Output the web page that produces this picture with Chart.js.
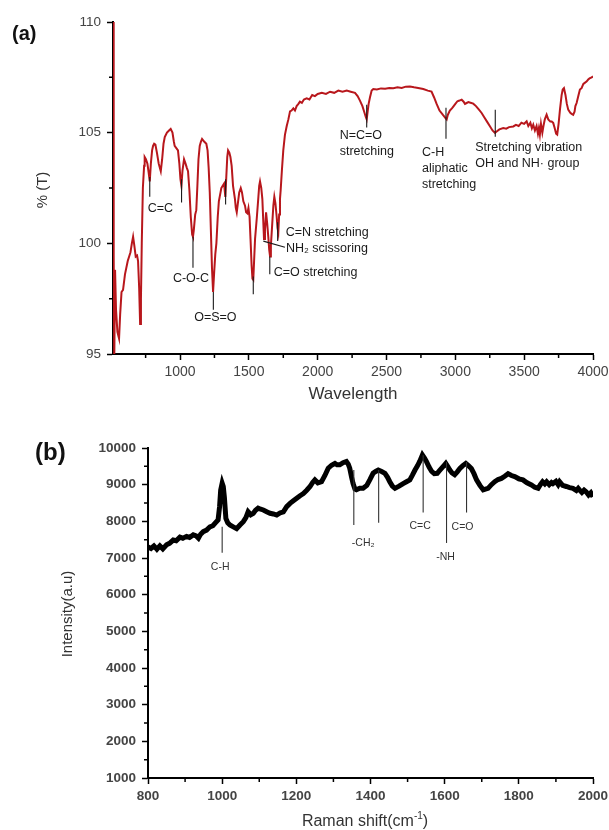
<!DOCTYPE html>
<html>
<head>
<meta charset="utf-8">
<script src="https://cdn.jsdelivr.net/npm/chart.js@4"></script>
<style>
  body { margin: 0; background: #fff; }
  .wrap { position: relative; width: 609px; height: 830px; }
  canvas { position: absolute; left: 0; }
  #ftir { top: 0; }
  #raman { top: 410px; }
</style>
</head>
<body>
<div class="wrap">
  <canvas id="ftir" width="609" height="410"></canvas>
  <canvas id="raman" width="609" height="420"></canvas>
</div>
<script>
// (a) FTIR: wavenumber and % transmittance
const ftirX = [513, 518, 522, 528, 535, 545, 557, 565, 575, 586, 600, 620, 640, 650, 659, 668, 678, 688, 695, 703,
  710, 716, 722, 730, 739, 743, 752, 763, 772, 780, 788, 797, 804, 812, 821, 832, 845, 860, 870, 880,
  889, 905, 920, 932, 945, 955, 961, 973, 985, 995, 1003, 1010, 1018, 1029, 1040, 1050, 1058, 1068, 1078, 1088,
  1094, 1100, 1110, 1118, 1126, 1134, 1143, 1152, 1160, 1175, 1191, 1200, 1208, 1216, 1224, 1232, 1240, 1248, 1256, 1264,
  1274, 1282, 1288, 1300, 1310, 1320, 1329, 1336, 1343, 1349, 1358, 1366, 1375, 1385, 1399, 1405, 1412, 1420, 1430, 1441,
  1450, 1460, 1472, 1480, 1489, 1497, 1505, 1512, 1520, 1526, 1532, 1538, 1545, 1557, 1568, 1575, 1581, 1590, 1598, 1604,
  1610, 1617, 1625, 1633, 1641, 1648, 1654, 1660, 1670, 1678, 1685, 1693, 1702, 1708, 1714, 1720, 1726, 1731, 1740, 1750,
  1762, 1775, 1787, 1799, 1810, 1823, 1835, 1847, 1860, 1871, 1885, 1900, 1920, 1940, 1960, 1980, 2000, 2030, 2060, 2090,
  2120, 2150, 2180, 2211, 2240, 2271, 2290, 2307, 2325, 2340, 2350, 2356, 2362, 2370, 2380, 2392, 2404, 2430, 2460, 2490,
  2520, 2549, 2580, 2610, 2640, 2670, 2700, 2730, 2767, 2800, 2827, 2845, 2864, 2885, 2910, 2930, 2937, 2945, 2960, 2975,
  2985, 3000, 3015, 3030, 3046, 3060, 3070, 3082, 3095, 3110, 3130, 3150, 3170, 3191, 3210, 3230, 3250, 3270, 3288, 3300,
  3320, 3348, 3370, 3390, 3421, 3440, 3460, 3480, 3500, 3518, 3530, 3545, 3556, 3566, 3578, 3590, 3600, 3607, 3614, 3622,
  3632, 3640, 3650, 3663, 3675, 3690, 3700, 3711, 3722, 3732, 3740, 3750, 3760, 3772, 3780, 3789, 3800, 3810, 3820, 3835,
  3845, 3856, 3866, 3872, 3881, 3895, 3905, 3917, 3930, 3940, 3953, 3965, 3975, 3990, 4000];
const ftirT = [113, 99.5, 94.5, 98.8, 97.0, 96.0, 95.7, 96.8, 97.8, 97.9, 98.6, 99.2, 99.6, 100.0, 100.3, 99.9, 99.4, 99.45, 99.2, 98.0,
  96.35, 97.5, 100.0, 102.5, 103.5, 103.9, 103.8, 103.6, 103.2, 102.8, 103.6, 104.2, 104.4, 104.5, 104.46, 104.1, 103.6, 103.26, 103.8, 104.5,
  104.8, 105.0, 105.1, 105.17, 105.0, 104.6, 104.4, 104.3, 104.2, 103.6, 102.9, 102.6, 103.3, 103.8, 103.6, 103.4, 103.26, 102.4, 101.2, 100.4,
  100.3, 100.6, 101.3, 101.5, 102.6, 103.8, 104.4, 104.6, 104.72, 104.6, 104.5, 104.2, 103.4, 102.3, 100.6, 98.9, 97.8, 98.7, 99.5, 100.0,
  101.2, 101.9, 102.1, 102.5, 102.6, 102.7, 102.1, 103.0, 103.9, 104.2, 104.1, 103.9, 103.5, 102.6, 102.0, 101.6, 101.4, 101.8, 102.3, 102.5,
  102.3, 101.9, 101.7, 101.4, 101.35, 101.6, 101.2, 100.2, 99.0, 98.4, 98.35, 99.2, 100.2, 101.1, 102.0, 102.6, 102.8, 102.5, 102.0, 101.1,
  100.2, 100.6, 101.4, 100.9, 100.3, 99.7, 99.4, 99.9, 100.9, 101.7, 102.1, 101.8, 101.2, 100.7, 100.5, 101.3, 102.0, 102.4, 103.3, 104.2,
  104.9, 105.3, 105.6, 105.96, 106.0, 106.1, 106.0, 106.2, 106.3, 106.4, 106.35, 106.5, 106.55, 106.5, 106.7, 106.65, 106.75, 106.8, 106.75, 106.85,
  106.8, 106.9, 106.85, 106.9, 106.85, 106.8, 106.65, 106.45, 106.2, 105.9, 105.7, 105.6, 105.9, 106.3, 106.6, 106.9, 106.97, 106.95, 107.0, 106.98,
  107.02, 107.01, 107.05, 107.02, 107.08, 107.09, 107.05, 107.02, 106.97, 106.9, 106.86, 106.6, 106.3, 106.0, 105.8, 105.65, 105.6, 105.8, 106.0, 106.1,
  106.18, 106.3, 106.42, 106.45, 106.49, 106.4, 106.3, 106.34, 106.38, 106.35, 106.31, 106.2, 106.05, 105.89, 105.7, 105.5, 105.3, 105.1, 104.99, 105.05,
  105.15, 105.21, 105.18, 105.25, 105.28, 105.35, 105.3, 105.45, 105.4, 105.51, 105.3, 105.45, 105.2, 105.36, 105.1, 105.3, 104.95, 105.2, 104.91, 105.4,
  105.0, 105.3, 105.6, 105.81, 105.6, 105.5, 105.5, 105.44, 105.2, 104.95, 104.91, 105.4, 106.04, 106.7, 106.95, 107.01, 106.7, 106.3, 106.04, 105.9,
  105.85, 105.81, 105.95, 106.2, 106.34, 106.7, 106.95, 107.01, 107.2, 107.25, 107.31, 107.4, 107.45, 107.5, 107.54];
const ftirXTicks = [1000, 1500, 2000, 2500, 3000, 3500, 4000];
const ftirXMinor = [750, 1250, 1750, 2250, 2750, 3250, 3750];
const ftirYTicks = [95, 100, 105, 110];
const ftirYMinor = [97.5, 102.5, 107.5];

// (b) Raman: shift and intensity
const ramanX = [800, 808, 816, 824, 832, 840, 850, 858, 868, 876, 886, 894, 904, 912, 922, 930, 936, 942, 949, 958,
  967, 975, 981, 989, 993, 996, 1000, 1003, 1006, 1010, 1015, 1021, 1030, 1039, 1048, 1057, 1064, 1070, 1077, 1084,
  1090, 1097, 1104, 1111, 1120, 1129, 1138, 1147, 1156, 1165, 1174, 1183, 1192, 1201, 1210, 1219, 1228, 1237, 1244, 1250,
  1258, 1268, 1277, 1286, 1295, 1304, 1310, 1317, 1326, 1335, 1340, 1344, 1349, 1353, 1358, 1362, 1371, 1380, 1390, 1398,
  1407, 1414, 1421, 1430, 1439, 1446, 1452, 1459, 1466, 1477, 1488, 1497, 1506, 1513, 1520, 1527, 1533, 1540, 1546, 1551,
  1558, 1565, 1572, 1580, 1586, 1592, 1598, 1603, 1608, 1614, 1620, 1627, 1634, 1641, 1649, 1657, 1664, 1672, 1679, 1686,
  1695, 1704, 1710, 1717, 1726, 1735, 1744, 1753, 1762, 1771, 1780, 1789, 1800, 1811, 1822, 1834, 1843, 1852, 1858, 1864,
  1870, 1875, 1882, 1888, 1892, 1900, 1906, 1910, 1918, 1928, 1937, 1946, 1955, 1960, 1964, 1970, 1976, 1982, 1988, 1994, 2000];
const ramanI = [7300, 7260, 7330, 7240, 7330, 7250, 7360, 7400, 7490, 7470, 7570, 7540, 7590, 7560, 7630, 7600, 7540, 7650, 7720, 7760,
  7850, 7880, 7950, 8040, 8400, 8850, 9040, 8950, 8650, 8080, 7960, 7900, 7850, 7800, 7900, 7990, 8100, 8260, 8180, 8220,
  8300, 8360, 8330, 8310, 8260, 8220, 8200, 8170, 8230, 8260, 8400, 8490, 8560, 8630, 8700, 8760, 8850, 8950, 9060, 9130,
  9050, 9080, 9250, 9450, 9530, 9580, 9540, 9540, 9600, 9630, 9560, 9450, 9200, 9030, 8880, 8860, 8900, 8900, 8980, 9130,
  9310, 9360, 9400, 9360, 9310, 9200, 9080, 8960, 8900, 8960, 9030, 9080, 9130, 9260, 9400, 9520, 9640, 9810, 9720, 9630,
  9480, 9360, 9300, 9310, 9380, 9450, 9520, 9580, 9500, 9400, 9320, 9270, 9350, 9440, 9520, 9580, 9520, 9440, 9300, 9130,
  8980, 8860, 8880, 8900, 9000, 9080, 9140, 9170, 9230, 9300, 9250, 9220, 9160, 9130, 9050, 8990, 8930, 8900, 9000, 9080,
  9020, 9080, 9000, 9060, 9030, 9090, 9000, 9080, 8980, 8950, 8920, 8900, 8840, 8900, 8850, 8790, 8850, 8800, 8720, 8780, 8670];
const ramanXTicks = [800, 1000, 1200, 1400, 1600, 1800, 2000];
const ramanXMinor = [900, 1100, 1300, 1500, 1700, 1900];
const ramanYTicks = [1000, 2000, 3000, 4000, 5000, 6000, 7000, 8000, 9000, 10000];
const ramanYMinor = [1500, 2500, 3500, 4500, 5500, 6500, 7500, 8500, 9500];

// etiquetas de los picos (x, extremos de la linea en unidades de datos)
const ftirNotes = [
  { x: 780, top: 103.0, bottom: 102.1, text: ["C=C"], dx: -2, dy: 12, align: "left" },
  { x: 1011, top: 102.9, bottom: 101.85, text: [] },
  { x: 1094, top: 100.3, bottom: 98.9, text: ["C-O-C"], dx: -2, dy: 11, align: "center" },
  { x: 1242, top: 97.8, bottom: 97.0, text: ["O=S=O"], dx: 2, dy: 8, align: "center" },
  { x: 1331, top: 102.9, bottom: 101.75, text: [] },
  { x: 1532, top: 98.5, bottom: 97.7, text: [] },
  { x: 1652, top: 99.4, bottom: 98.6, text: ["C=O stretching"], dx: 4, dy: -2, align: "left" },
  { x: 1605, x2: 1762, top: 100.1, bottom: 99.82, text: ["NH₂ scissoring"], dx: 1, dy: 1, align: "left" },
  { x: 1709, top: 100.95, bottom: 100.1, text: ["C=N stretching"], dx: 8, dy: -9, align: "left" },
  { x: 2356, top: 106.26, bottom: 105.23, text: ["N=C=O", "stretching"], dx: -27, dy: 8, align: "left" },
  { x: 2932, top: 106.13, bottom: 104.73, text: ["C-H", "aliphatic", "stretching"], dx: -24, dy: 14, align: "left" },
  { x: 3290, top: 106.04, bottom: 104.82, text: ["Stretching vibration", "OH and NH· group"], dx: -20, dy: 11, align: "left" },
];
const ramanNotes = [
  { x: 1000, top: 7850, bottom: 7140, text: ["C-H"], dx: -2, dy: 14, align: "center" },
  { x: 1355, top: 9400, bottom: 7900, text: ["-CH₂"], dx: -2, dy: 18, align: "left" },
  { x: 1422, top: 9400, bottom: 7960, text: [] },
  { x: 1542, top: 9800, bottom: 8240, text: ["C=C"], dx: -3, dy: 14, align: "center" },
  { x: 1605, top: 9620, bottom: 7410, text: ["-NH"], dx: -1, dy: 14, align: "center" },
  { x: 1659, top: 9620, bottom: 8240, text: ["C=O"], dx: -4, dy: 15, align: "center" },
];

const FONT = "'Liberation Sans', Arial, sans-serif";

function points(xs, ys) {
  return xs.map((x, i) => ({ x: x, y: ys[i] }));
}

// plugin para ticks menores, lineas de picos y titulos
function decor(cfg) {
  return {
    id: "decor",
    afterDraw(chart) {
      const ctx = chart.ctx;
      const sx = chart.scales.x;
      const sy = chart.scales.y;
      ctx.save();

      ctx.strokeStyle = "#000";
      ctx.lineWidth = 1.5;
      ctx.beginPath();
      cfg.minorX.forEach(v => {
        const px = sx.getPixelForValue(v);
        ctx.moveTo(px, sy.bottom);
        ctx.lineTo(px, sy.bottom + 4);
      });
      cfg.minorY.forEach(v => {
        const py = sy.getPixelForValue(v);
        ctx.moveTo(sx.left - 4, py);
        ctx.lineTo(sx.left, py);
      });
      ctx.stroke();

      ctx.font = cfg.noteFont;
      ctx.fillStyle = cfg.noteColor;
      ctx.strokeStyle = cfg.noteColor;
      ctx.lineWidth = 1.1;
      ctx.textBaseline = "middle";
      cfg.notes.forEach(n => {
        const x1 = sx.getPixelForValue(n.x);
        const x2 = n.x2 !== undefined ? sx.getPixelForValue(n.x2) : x1;
        const y1 = sy.getPixelForValue(n.top);
        const y2 = sy.getPixelForValue(n.bottom);
        ctx.beginPath();
        ctx.moveTo(x1, y1);
        ctx.lineTo(x2, y2);
        ctx.stroke();
        ctx.textAlign = n.align || "left";
        n.text.forEach((t, i) => {
          ctx.fillText(t, x2 + n.dx, y2 + n.dy + i * cfg.lineH);
        });
      });

      // letra del panel
      ctx.fillStyle = "#111";
      ctx.font = cfg.panelFont;
      ctx.textAlign = "left";
      ctx.fillText(cfg.panel, cfg.panelPos[0], cfg.panelPos[1]);

      // titulos de ejes
      ctx.fillStyle = "#333";
      ctx.font = cfg.titleFont;
      ctx.textAlign = "center";
      if (cfg.xSup) {
        ctx.font = cfg.titleFont;
        const w1 = ctx.measureText(cfg.xTitle).width;
        ctx.font = cfg.supFont;
        const w2 = ctx.measureText(cfg.xSup).width;
        ctx.font = cfg.titleFont;
        const w3 = ctx.measureText(")").width;
        let x0 = cfg.xTitlePos[0] - (w1 + w2 + w3) / 2;
        ctx.textAlign = "left";
        ctx.fillText(cfg.xTitle, x0, cfg.xTitlePos[1]);
        ctx.font = cfg.supFont;
        ctx.fillText(cfg.xSup, x0 + w1, cfg.xTitlePos[1] - 6);
        ctx.font = cfg.titleFont;
        ctx.fillText(")", x0 + w1 + w2, cfg.xTitlePos[1]);
      } else {
        ctx.fillText(cfg.xTitle, cfg.xTitlePos[0], cfg.xTitlePos[1]);
      }
      ctx.font = cfg.yTitleFont;
      ctx.textAlign = "center";
      ctx.translate(cfg.yTitlePos[0], cfg.yTitlePos[1]);
      ctx.rotate(-Math.PI / 2);
      ctx.fillText(cfg.yTitle, 0, 0);
      ctx.restore();
    }
  };
}

function axisOpts(min, max, ticks, tickFont, yWidth, xHeight, isY) {
  return {
    type: "linear",
    min: min,
    max: max,
    afterBuildTicks: axis => { axis.ticks = ticks.map(v => ({ value: v })); },
    afterFit: axis => {
      // tamaño fijo del eje, sin margen extra por las etiquetas de los extremos
      if (isY) {
        axis.width = yWidth;
        axis.paddingTop = 0;
        axis.paddingBottom = 0;
      } else {
        axis.height = xHeight;
        axis.paddingLeft = 0;
        axis.paddingRight = 0;
      }
    },
    ticks: {
      callback: v => String(v),
      font: tickFont,
      color: "#444",
      padding: isY ? 6 : 4,
      maxRotation: 0,
      autoSkip: false,
    },
    grid: {
      drawOnChartArea: false,
      drawTicks: true,
      tickLength: 6,
      tickColor: "#000",
      tickWidth: 1.5,
    },
    border: { display: true, color: "#000", width: 2 },
  };
}

// grafico (a)
new Chart(document.getElementById("ftir"), {
  type: "line",
  data: {
    datasets: [{
      data: points(ftirX, ftirT),
      borderColor: "#b8171c",
      borderWidth: 2,
      pointRadius: 0,
      tension: 0,
    }],
  },
  options: {
    responsive: false,
    animation: false,
    devicePixelRatio: 1,
    layout: { padding: { top: 22, right: 16, left: 0, bottom: 0 } },
    plugins: { legend: { display: false }, tooltip: { enabled: false } },
    scales: {
      x: axisOpts(513, 4000, ftirXTicks, { family: FONT, size: 14 }, 113, 56, false),
      y: axisOpts(95, 110, ftirYTicks, { family: FONT, size: 13.5 }, 113, 56, true),
    },
  },
  plugins: [decor({
    minorX: ftirXMinor, minorY: ftirYMinor, notes: ftirNotes,
    noteFont: "12.5px " + FONT, noteColor: "#1a1a1a", lineH: 16,
    panel: "(a)", panelFont: "bold 20px " + FONT, panelPos: [12, 34],
    titleFont: "17px " + FONT, xTitle: "Wavelength", xTitlePos: [353, 394],
    yTitleFont: "15px " + FONT, yTitle: "% (T)", yTitlePos: [43, 190],
  })],
});

// grafico (b)
new Chart(document.getElementById("raman"), {
  type: "line",
  data: {
    datasets: [{
      data: points(ramanX, ramanI),
      borderColor: "#000",
      borderWidth: 5,
      pointRadius: 0,
      tension: 0,
    }],
  },
  options: {
    responsive: false,
    animation: false,
    devicePixelRatio: 1,
    layout: { padding: { top: 38, right: 16, left: 0, bottom: 0 } },
    plugins: { legend: { display: false }, tooltip: { enabled: false } },
    scales: {
      x: axisOpts(800, 2000, ramanXTicks, { family: FONT, size: 13.5, weight: "bold" }, 148, 52, false),
      y: axisOpts(1000, 10000, ramanYTicks, { family: FONT, size: 13.5, weight: "bold" }, 148, 52, true),
    },
  },
  plugins: [decor({
    minorX: ramanXMinor, minorY: ramanYMinor, notes: ramanNotes,
    noteFont: "10.5px " + FONT, noteColor: "#333", lineH: 12,
    panel: "(b)", panelFont: "bold 24px " + FONT, panelPos: [35, 43],
    titleFont: "16px " + FONT, supFont: "10px " + FONT, xTitle: "Raman shift(cm", xSup: "-1", xTitlePos: [365, 412],
    yTitleFont: "15px " + FONT, yTitle: "Intensity(a.u)", yTitlePos: [68, 204],
  })],
});
</script>
</body>
</html>
